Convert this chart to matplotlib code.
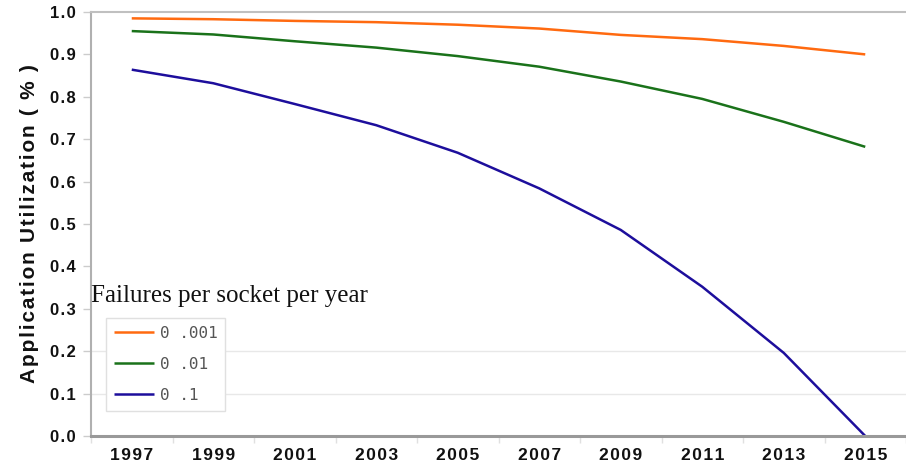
import matplotlib
matplotlib.use("Agg")
import matplotlib.pyplot as plt
from matplotlib.ticker import FixedLocator, NullFormatter

years = ["1997", "1999", "2001", "2003", "2005", "2007", "2009", "2011", "2013", "2015"]
rate_labels = ["0 .001", "0 .01", "0 .1"]
util_0001 = [0.985, 0.983, 0.979, 0.976, 0.970, 0.961, 0.946, 0.936, 0.920, 0.900]
util_001 = [0.955, 0.947, 0.931, 0.916, 0.896, 0.871, 0.836, 0.795, 0.741, 0.682]
util_01 = [0.864, 0.832, 0.783, 0.733, 0.668, 0.584, 0.486, 0.352, 0.196, 0.0]
y_ticks = [0.0, 0.1, 0.2, 0.3, 0.4, 0.5, 0.6, 0.7, 0.8, 0.9, 1.0]

colors = ["#ff6a10", "#1a721a", "#1d0e9c"]
series = [util_0001, util_001, util_01]

HAIR = "\u200a"
SANS = ["Liberation Sans", "DejaVu Sans"]


def spaced(s, gap):
    return gap.join(list(s))


W, H = 906, 470
fig = plt.figure(figsize=(W / 100, H / 100), dpi=100)
ax = fig.add_axes([91 / W, 34 / H, 815 / W, 424 / H])

x = list(range(len(years)))
lines = []
for vals, c, lab in zip(series, colors, rate_labels):
    ln, = ax.plot(x, vals, color=c, lw=1.8, solid_capstyle="butt", label=lab)
    lines.append(ln)

ax.set_xlim(-0.5, len(years) - 0.5)
ax.set_ylim(0, 1.0)

# category labels at centres, tick marks on the category boundaries
ax.set_xticks(x)
ax.set_xticklabels([spaced(y, HAIR) for y in years], fontsize=12.5,
                   fontweight="bold", family=SANS, color="#111111")
ax.tick_params(axis="x", which="major", length=0, pad=9)
ax.xaxis.set_minor_locator(FixedLocator([i + 0.5 for i in range(-1, len(years))]))
ax.xaxis.set_minor_formatter(NullFormatter())
ax.tick_params(axis="x", which="minor", length=5, color="#e0e0e0", width=1)

ax.set_yticks(y_ticks)
ax.set_yticklabels([spaced(f"{v:.1f}", HAIR) for v in y_ticks], fontsize=12,
                   fontweight="bold", family=SANS, color="#111111")
ax.tick_params(axis="y", length=6, color="#cccccc", width=1, pad=5)

ax.set_ylabel(spaced("Application Utilization ( % )", HAIR), fontsize=15,
              fontweight="bold", family=SANS, color="#111111", labelpad=8)

# light reference lines near the bottom of the plot
for gy in (0.1, 0.2):
    ax.axhline(gy, color="#e8e8e8", lw=1, zorder=0)

ax.spines["left"].set_color("#b0b0b0")
ax.spines["left"].set_linewidth(1.5)
ax.spines["top"].set_color("#c0c0c0")
ax.spines["top"].set_linewidth(1.5)
ax.spines["bottom"].set_color("#999999")
ax.spines["bottom"].set_linewidth(2.2)
ax.spines["right"].set_visible(False)

ax.text(0.0, 1 - (296 - 12) / 424, "Failures per socket per year",
        transform=ax.transAxes, fontsize=18,
        family=["Liberation Serif", "DejaVu Serif"],
        color="#111111", ha="left", va="center")

leg = ax.legend(handles=lines, loc="upper left",
                bbox_to_anchor=(15 / 815, 1 - (318 - 12) / 424),
                bbox_transform=ax.transAxes, borderaxespad=0,
                prop={"family": "DejaVu Sans Mono", "size": 11.5},
                labelcolor="#555555", handlelength=2.5, handletextpad=0.35,
                labelspacing=1.0, borderpad=0.5, frameon=True,
                fancybox=False, framealpha=1, edgecolor="#e0e0e0")
leg.get_frame().set_linewidth(1)

fig.savefig("out.png", dpi=100)
